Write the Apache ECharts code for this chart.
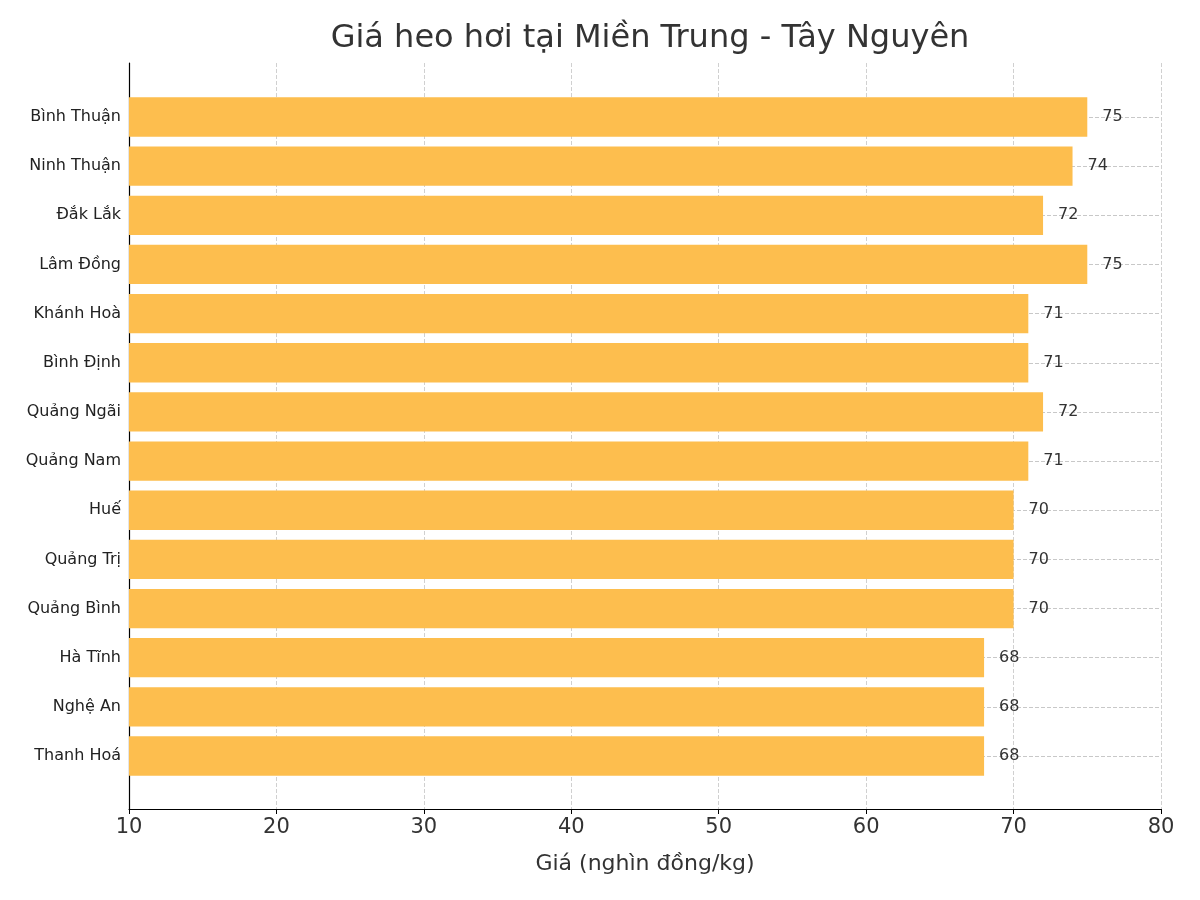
<!DOCTYPE html>
<html><head><meta charset="utf-8">
<script src="https://cdn.jsdelivr.net/npm/echarts@6/dist/echarts.min.js"></script>
<style>html,body{margin:0;padding:0;background:#fff}#c{width:1200px;height:900px}</style>
</head><body><div id="c"></div>
<script>
const categories = ["Bình Thuận","Ninh Thuận","Đắk Lắk","Lâm Đồng","Khánh Hoà","Bình Định","Quảng Ngãi","Quảng Nam","Huế","Quảng Trị","Quảng Bình","Hà Tĩnh","Nghệ An","Thanh Hoá"];
const prices = [75,74,72,75,71,71,72,71,70,70,70,68,68,68];
const xTicks = {min:10, max:80, interval:10};
const font = "DejaVu Sans";
const chart = echarts.init(document.getElementById('c'));
chart.setOption({
  animation:false,
  textStyle:{fontFamily:font},
  title:{text:"Giá heo hơi tại Miền Trung - Tây Nguyên",left:645,top:18,textAlign:'center',
    textStyle:{fontFamily:font,fontSize:32,fontWeight:'normal',color:'#333'}},
  grid:[
    {left:129,right:39,top:117,bottom:144},
    {left:129,right:39,top:63,bottom:91}
  ],
  xAxis:[
    {gridIndex:0,type:'value',min:xTicks.min,max:xTicks.max,interval:xTicks.interval,show:false},
    {gridIndex:1,type:'value',min:xTicks.min,max:xTicks.max,interval:xTicks.interval,
     name:"Giá (nghìn đồng/kg)",nameLocation:'middle',nameGap:44,
     nameTextStyle:{fontFamily:font,fontSize:22,color:'#333'},
     axisLine:{lineStyle:{color:'#000',width:1.2}},axisTick:{show:true,length:5,lineStyle:{color:'#000'}},
     axisLabel:{fontFamily:font,fontSize:21,color:'#333',margin:8},
     splitLine:{show:true,lineStyle:{type:'dashed',color:'#d0d0d0'}}}
  ],
  yAxis:[
    {gridIndex:0,type:'category',data:categories,inverse:true,boundaryGap:false,
     axisLine:{show:false},axisTick:{show:false},
     axisLabel:{fontFamily:font,fontSize:16,color:'#222',margin:8},
     splitLine:{show:true,lineStyle:{type:'dashed',color:'#c8c8c8'}}},
    {gridIndex:1,type:'value',min:0,max:1,axisLabel:{show:false},axisTick:{show:false},splitLine:{show:false},
     axisLine:{show:true,lineStyle:{color:'#000',width:1.2}}}
  ],
  series:[{type:'bar',xAxisIndex:0,yAxisIndex:0,data:prices,barWidth:'80%',
    itemStyle:{color:'#FDBE4E'},
    label:{show:true,position:'right',distance:15,fontFamily:font,fontSize:16,color:'#333'}}]
});
</script></body></html>
